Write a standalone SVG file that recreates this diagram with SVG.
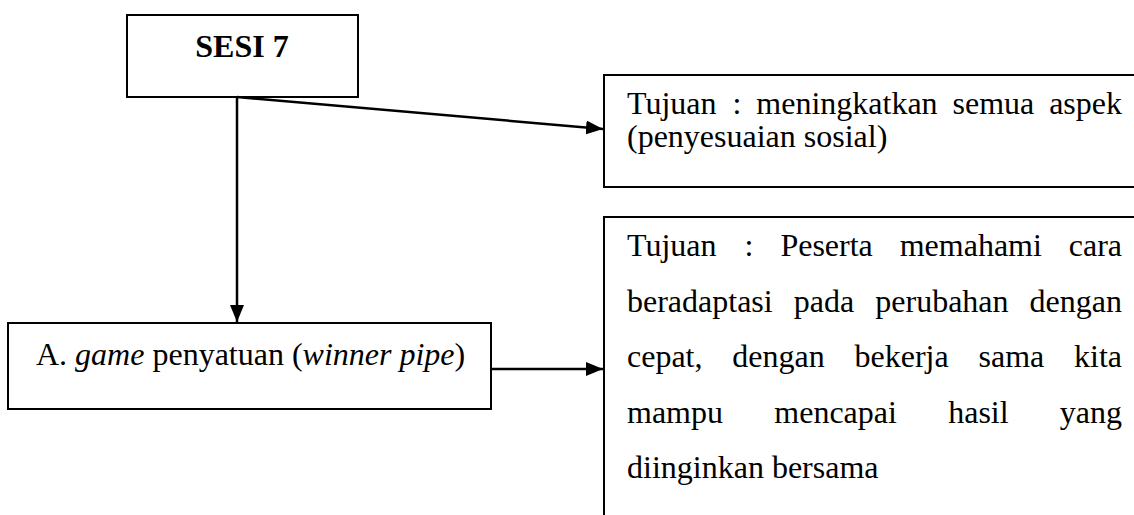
<svg xmlns="http://www.w3.org/2000/svg" width="1134" height="515" viewBox="0 0 1134 515">
  <style>
    .box { fill: #ffffff; stroke: #000000; stroke-width: 2; }
    .txt { font-family: "Liberation Serif", "Times New Roman", serif; font-size: 32px; fill: #000000; }
    .bold { font-weight: bold; }
    .it { font-style: italic; }
    .end { text-anchor: end; }
    .link { fill: none; stroke: #000000; stroke-width: 2.5; marker-end: url(#arrow); }
  </style>
  <defs>
    <marker id="arrow" markerUnits="userSpaceOnUse" markerWidth="17" markerHeight="14" refX="17" refY="7" orient="auto">
      <path d="M0,0 L17,7 L0,14 Z" fill="#000000"/>
    </marker>
  </defs>
  <rect width="1134" height="515" fill="#ffffff"/>

  <!-- session header -->
  <g id="sesi7">
    <rect class="box" x="127" y="15" width="231" height="82"/>
    <text class="txt bold" x="242" y="57" text-anchor="middle">SESI 7</text>
  </g>

  <!-- overall goal -->
  <g id="tujuan-umum">
    <rect class="box" x="604" y="75" width="540" height="112"/>
    <text class="txt" y="114">
      <tspan x="627">Tujuan</tspan><tspan x="732.5">:</tspan><tspan x="756.3">meningkatkan</tspan><tspan x="952.5">semua</tspan><tspan class="end" x="1122">aspek</tspan>
    </text>
    <text class="txt" x="627" y="147">(penyesuaian sosial)</text>
  </g>

  <!-- activity A -->
  <g id="game">
    <rect class="box" x="8" y="323" width="483" height="86"/>
    <text class="txt" x="36" y="365">A. <tspan class="it">game</tspan> penyatuan (<tspan class="it">winner pipe</tspan>)</text>
  </g>

  <!-- goal of activity A -->
  <g id="tujuan-game">
    <rect class="box" x="604" y="217" width="540" height="310"/>
    <text class="txt" y="256">
      <tspan x="627">Tujuan</tspan><tspan x="744.6">:</tspan><tspan x="780.4">Peserta</tspan><tspan x="899.7">memahami</tspan><tspan class="end" x="1122">cara</tspan>
    </text>
    <text class="txt" y="311.5">
      <tspan x="627">beradaptasi</tspan><tspan x="793.8">pada</tspan><tspan x="875.3">perubahan</tspan><tspan class="end" x="1122">dengan</tspan>
    </text>
    <text class="txt" y="367">
      <tspan x="627">cepat,</tspan><tspan x="732.3">dengan</tspan><tspan x="854.5">bekerja</tspan><tspan x="978.5">sama</tspan><tspan class="end" x="1122">kita</tspan>
    </text>
    <text class="txt" y="422.5">
      <tspan x="627">mampu</tspan><tspan x="774.3">mencapai</tspan><tspan x="948.2">hasil</tspan><tspan class="end" x="1122">yang</tspan>
    </text>
    <text class="txt" x="627" y="478">diinginkan bersama</text>
  </g>

  <!-- connectors -->
  <g id="connectors">
    <line class="link" x1="237" y1="97" x2="237" y2="322"/>
    <line class="link" x1="237" y1="97" x2="603" y2="129"/>
    <line class="link" x1="491" y1="369" x2="603" y2="369"/>
  </g>
</svg>
